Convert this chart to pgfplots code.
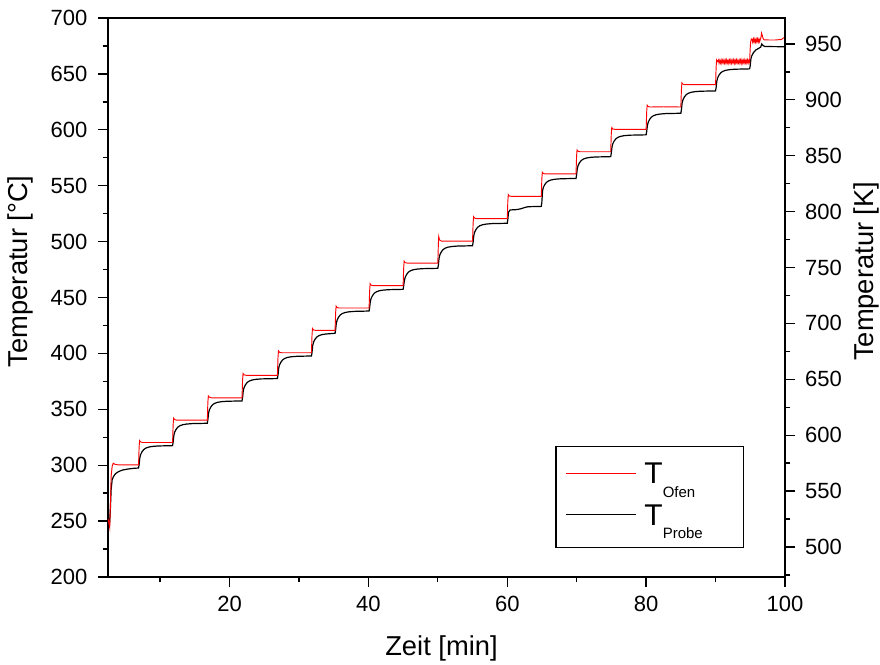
\documentclass[border=0pt]{standalone}
\usepackage{pgfplots}
\pgfplotsset{compat=1.18}
\usepackage{fontspec}
\setmainfont{Liberation Sans}
\begin{document}
\begin{tikzpicture}
\path[use as bounding box] (-81pt,-65.25pt) rectangle (579pt,432.75pt);
\begin{axis}[
  scale only axis, width=507.75pt, height=419.25pt,
  xmin=2.5, xmax=100, ymin=200, ymax=700,
  xtick={20,40,60,80,100}, minor xtick={10,30,50,70,90},
  ytick={200,250,...,700}, minor ytick={225,275,...,675},
  tick align=outside, xtick pos=left, ytick pos=left,
  major tick length=7.5pt, minor tick length=4pt,
  axis line style={line width=1pt},
  tick style={line width=1pt, black},
  /pgf/number format/assume math mode=true,
  ticklabel style={font=\fontsize{16.5}{16.5}\selectfont},
  yticklabel style={xshift=-4.5pt},
  xticklabel style={yshift=-3pt},
  xlabel={Zeit [min]}, ylabel={Temperatur [°C]},
  every axis x label/.style={at={(axis description cs:0.4926,0)}, anchor=center, yshift=-53.25pt, font=\fontsize{20.5}{20.5}\selectfont},
  every axis y label/.style={at={(axis description cs:0,0.547)}, anchor=center, xshift=-66pt, rotate=90, font=\fontsize{20.5}{20.5}\selectfont},
  legend style={at={(axis description cs:0.661,0.2349)}, anchor=north west, draw=black, line width=0.8pt,
    inner xsep=7pt, inner ysep=6.6pt, column sep=6pt, row sep=0pt,
    nodes={inner sep=0pt, text height=21.6pt, text depth=9.7pt},
    cells={anchor=base west}},
  legend image code/.code={\draw[#1, line width=0.8pt] (0pt,8pt) -- (52.5pt,8pt);},
]
\addlegendimage{red}
\addlegendentry{\makebox[67.5pt][l]{{\fontsize{22.5}{22.5}\selectfont T}\raisebox{-10pt}{\fontsize{11.25}{11.25}\selectfont Ofen}}}
\addlegendimage{black}
\addlegendentry{\makebox[67.5pt][l]{{\fontsize{22.5}{22.5}\selectfont T}\raisebox{-10pt}{\fontsize{11.25}{11.25}\selectfont Probe}}}
% Probe (black)
\addplot[black, line width=0.9pt, forget plot] coordinates {
(2.5,255) (2.6,251) (2.75,250) (2.85,262) (2.95,278) (3.1,287) (3.3,290) (3.6,292.5) (4.0,294.2) (4.6,295.7) (5.4,296.6) (6.2,297.2) (6.9,297.5)
(6.98,300.5) (7.08,306.5) (7.2,309.5) (7.4,312) (7.65,314) (7.95,315.3) (8.35,316.2) (8.9,316.8) (9.7,317.2) (11.8,317.5)
(11.88,320.5) (11.98,326.5) (12.1,329.5) (12.3,332) (12.55,334) (12.85,335.3) (13.25,336.2) (13.8,336.8) (14.6,337.2) (16.8,337.5)
(16.88,340.5) (16.98,346.5) (17.1,349.5) (17.3,352) (17.55,354) (17.85,355.3) (18.25,356.2) (18.8,356.8) (19.6,357.2) (21.8,357.5)
(21.88,360.5) (21.98,366.5) (22.1,369.5) (22.3,372) (22.55,374) (22.85,375.3) (23.25,376.2) (23.8,376.8) (24.6,377.2) (26.9,377.5)
(26.98,380.5) (27.08,386.7) (27.2,389.7) (27.4,392.2) (27.65,394.2) (27.95,395.5) (28.35,396.4) (28.9,397) (29.7,397.4) (31.8,397.7)
(31.88,400.7) (31.98,407) (32.1,410) (32.3,412.5) (32.55,414.5) (32.85,415.8) (33.25,416.7) (33.8,417.3) (34.6,417.7) (35.2,418)
(35.28,421) (35.38,426.9) (35.5,429.9) (35.7,432.4) (35.95,434.4) (36.25,435.7) (36.65,436.6) (37.2,437.2) (38.0,437.6) (40.1,437.9)
(40.18,441) (40.28,446.3) (40.4,449.3) (40.6,451.8) (40.85,453.8) (41.15,455.1) (41.55,456) (42.1,456.6) (42.9,457) (45.0,457.3)
(45.08,460.3) (45.18,465.1) (45.3,468.1) (45.5,470.6) (45.75,472.6) (46.05,473.9) (46.45,474.8) (47.0,475.4) (47.8,475.8) (50.0,476.1)
(50.08,479.1) (50.18,485.3) (50.3,488.3) (50.5,490.8) (50.75,492.8) (51.05,494.1) (51.45,495) (52.0,495.6) (52.8,496) (55.0,496.3)
(55.08,499.3) (55.18,505.4) (55.3,508.4) (55.5,510.9) (55.75,512.9) (56.05,514.2) (56.45,515.1) (57.0,515.7) (57.8,516.1) (60.0,516.4)
(60.08,519.5) (60.18,526.3) (60.4,528.3) (61.3,528.6) (62.0,529.4) (62.5,530.5) (63.0,531.2) (64.9,531.5)
(64.98,535) (65.08,545.5) (65.2,548.5) (65.4,551) (65.65,553) (65.95,554.3) (66.35,555.2) (66.9,555.8) (67.7,556.2) (69.9,556.5)
(69.98,559.5) (70.08,565) (70.2,568) (70.4,570.5) (70.65,572.5) (70.95,573.8) (71.35,574.7) (71.9,575.3) (72.7,575.7) (74.9,576)
(74.98,579) (75.08,584.5) (75.2,587.5) (75.4,590) (75.65,592) (75.95,593.3) (76.35,594.2) (76.9,594.8) (77.7,595.2) (80.0,595.5)
(80.08,598.5) (80.18,603.8) (80.3,606.8) (80.5,609.3) (80.75,611.3) (81.05,612.6) (81.45,613.5) (82.0,614.1) (82.8,614.5) (85.0,614.8)
(85.08,617.8) (85.18,623.8) (85.3,626.8) (85.5,629.3) (85.75,631.3) (86.05,632.6) (86.45,633.5) (87.0,634.1) (87.8,634.5) (90.0,634.8)
(90.08,637.8) (90.18,643.5) (90.3,646.5) (90.5,649) (90.75,651) (91.05,652.3) (91.45,653.2) (92.0,653.8) (92.8,654.2) (94.9,654.5)
(94.98,657) (95.08,663) (95.2,666) (95.45,669) (95.8,671.4) (96.2,672.8) (96.5,674) (96.65,676.8) (96.8,675.5) (97.1,674.5) (100,674.3)
};
% Ofen (red)
\addplot[red, line width=0.7pt, forget plot] coordinates {
(2.5,252) (2.6,249) (2.75,244) (2.85,265) (2.95,290) (3.1,299) (3.25,301.8) (3.5,300.8) (4.0,300.3) (6.9,300.3)
(6.98,316) (7.05,322) (7.2,320.8) (7.5,320.3) (11.8,320.3)
(11.88,336) (11.95,342) (12.1,340.8) (12.4,340.3) (16.8,340.3)
(16.88,356) (16.95,362) (17.1,360.8) (17.4,360.3) (21.8,360.3)
(21.88,376) (21.95,382) (22.1,380.8) (22.4,380.4) (26.9,380.4)
(26.98,396) (27.05,402.3) (27.2,401) (27.5,400.6) (31.8,400.6)
(31.88,416) (31.95,422.3) (32.1,421) (32.4,420.6) (35.2,420.6)
(35.28,436) (35.35,442.3) (35.5,441) (35.8,440.6) (40.1,440.6)
(40.18,456) (40.25,462.3) (40.4,461) (40.7,460.6) (45.0,460.6)
(45.08,476) (45.15,482.5) (45.3,481.2) (45.6,480.8) (50.0,480.8)
(50.08,498) (50.13,504.5) (50.25,501.5) (50.5,500.5) (55.0,500.5)
(55.08,516) (55.15,522.3) (55.3,521) (55.6,520.5) (60.0,520.5)
(60.08,536) (60.15,542) (60.3,540.8) (60.6,540.5) (64.9,540.5)
(64.98,556) (65.05,562) (65.2,560.9) (65.5,560.5) (69.9,560.5)
(69.98,576) (70.05,582) (70.2,580.8) (70.5,580.4) (74.9,580.4)
(74.98,596) (75.05,602) (75.2,600.8) (75.5,600.4) (80.0,600.4)
(80.08,616) (80.15,622) (80.3,620.8) (80.6,620.4) (82.5,620.6) (85.0,620.4)
(85.08,636) (85.15,642) (85.3,640.8) (85.6,640.4) (90.0,640.4)
(90.08,656) (90.15,662.5) (90.3,661)
(90.4,662.4) (90.5,659.5) (90.6,662.1) (90.7,659.8) (90.8,662.6) (90.9,659.4) (91.0,662.2) (91.1,659.9) (91.2,662.5) (91.3,659.6)
(91.4,662.3) (91.5,659.5) (91.6,662.6) (91.7,659.8) (91.8,662.0) (91.9,659.4) (92.0,662.4) (92.1,659.7) (92.2,662.6) (92.3,659.5)
(92.4,662.2) (92.5,659.8) (92.6,662.5) (92.7,659.4) (92.8,662.3) (92.9,659.7) (93.0,662.6) (93.1,659.5) (93.2,662.1) (93.3,659.8)
(93.4,662.5) (93.5,659.6) (93.6,662.4) (93.7,659.4) (93.8,662.6) (93.9,659.7) (94.0,662.2) (94.1,659.5) (94.2,662.5) (94.3,659.8)
(94.4,662.3) (94.5,659.6) (94.6,662.6) (94.7,659.7) (94.8,662.2) (94.9,660.5)
(94.98,672) (95.05,678.5) (95.15,681.3)
(95.25,681.2) (95.35,678.3) (95.45,681.4) (95.55,678.5) (95.65,681.2) (95.75,678.4) (95.85,681.3) (95.95,678.6) (96.05,681.4) (96.15,678.5) (96.25,681.2) (96.35,678.7) (96.45,681)
(96.55,683) (96.62,686.5) (96.7,685) (96.85,681.5) (97.0,680.4) (98.5,680.3) (99.5,680.8) (99.8,682.3) (100,681.8)
};
\end{axis}
\begin{axis}[
  scale only axis, width=507.75pt, height=419.25pt,
  xmin=2.5, xmax=100, ymin=473.15, ymax=973.15,
  axis y line*=right, axis x line=none,
  ytick={500,550,...,950}, minor ytick={475,525,...,925},
  tick align=outside,
  major tick length=7.5pt, minor tick length=4pt,
  axis line style={line width=1pt, -},
  tick style={line width=1pt, black},
  /pgf/number format/assume math mode=true,
  ticklabel style={font=\fontsize{16.5}{16.5}\selectfont},
  yticklabel style={xshift=4pt},
  ylabel={Temperatur [K]},
  every axis y label/.style={at={(axis description cs:1,0.547)}, anchor=center, xshift=60.75pt, rotate=90, font=\fontsize{20.5}{20.5}\selectfont},
]
\end{axis}
\end{tikzpicture}
\end{document}
